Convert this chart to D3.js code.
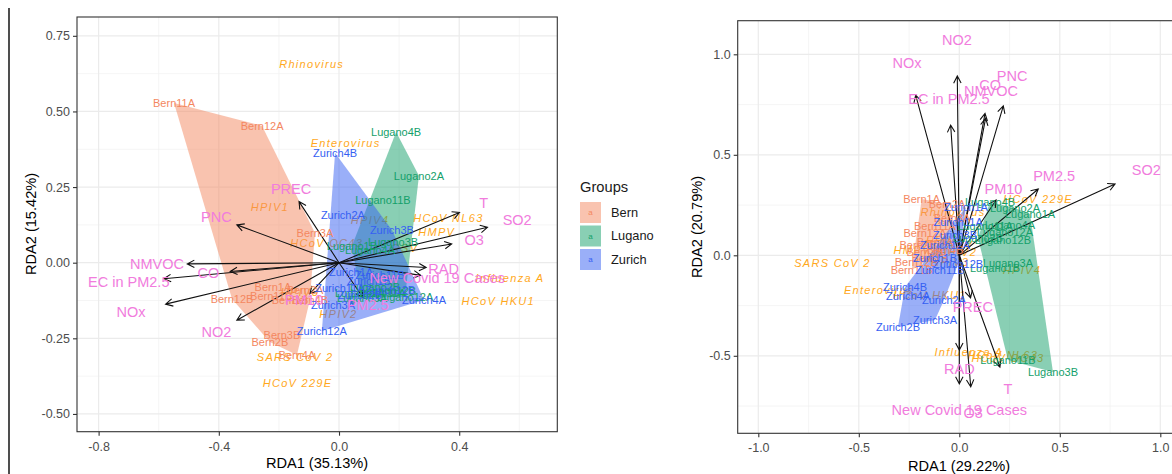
<!DOCTYPE html>
<html>
<head>
<meta charset="utf-8">
<script src="https://cdn.jsdelivr.net/npm/d3@7"></script>
<style>
body { margin: 0; background: #fff; }
text { font-family: "Liberation Sans", Arial, sans-serif; }
</style>
</head>
<body>
<svg id="chart" width="1172" height="474"></svg>
<script>
// ---- data ----
const groups = ["Bern", "Lugano", "Zurich"];
const siteCodes = ["1A", "1B", "2A", "2B", "3A", "3B", "4A", "4B", "11A", "11B", "12A", "12B"];
const siteNames = groups.flatMap(g => siteCodes.map(c => g + c));

// sample scores, same order as siteNames (Bern x12, Lugano x12, Zurich x12)
const leftSiteRDA1 = [
  -0.22, -0.163, -0.113, -0.23, -0.08, -0.19, -0.14, -0.097, -0.549, -0.226, -0.256, -0.356,
  0.07, 0.043, 0.266, 0.12, 0.077, 0.18, 0.103, 0.19, 0.13, 0.146, 0.22, 0.163,
  0.04, 0.1, 0.013, 0.07, -0.02, 0.176, 0.283, -0.013, 0.003, 0.136, -0.057, 0.17
];
const leftSiteRDA2 = [
  -0.08, -0.123, -0.09, -0.262, 0.098, -0.239, -0.305, -0.123, 0.528, -0.11, 0.452, -0.12,
  -0.1, 0.055, 0.287, -0.08, -0.117, 0.068, 0.042, 0.432, -0.1, 0.207, -0.113, -0.093,
  -0.03, -0.06, 0.158, -0.107, -0.14, 0.108, -0.123, 0.363, -0.083, -0.04, -0.226, -0.09
];
const rightSiteRDA1 = [
  -0.187, -0.146, -0.061, -0.206, -0.036, -0.171, -0.121, -0.071, -0.121, -0.237, -0.171, -0.215,
  0.352, 0.178, 0.277, 0.093, 0.242, 0.466, 0.252, 0.153, 0.128, 0.242, 0.227, 0.217,
  0.033, -0.121, -0.076, -0.305, -0.121, -0.021, -0.255, -0.27, -0.006, -0.096, -0.071, -0.006
];
const rightSiteRDA2 = [
  0.28, -0.013, 0.255, 0.051, 0.186, 0.016, 0.066, 0.026, 0.146, -0.073, 0.111, -0.033,
  0.205, -0.063, 0.235, 0.086, -0.038, -0.58, 0.151, 0.265, 0.146, -0.521, 0.116, 0.076,
  0.24, -0.013, -0.222, -0.357, -0.322, 0.1, -0.202, -0.158, 0.166, -0.073, 0.051, -0.043
];

const species = ["Rhinovirus", "Enterovirus", "HPIV1", "HPIV2", "HPIV3", "HPIV4", "HCoV OC43",
  "HCoV NL63", "HCoV 229E", "HCoV HKU1", "HMPV", "RSV", "Influenza A", "SARS CoV 2"];
const leftSpeciesRDA1 = [-0.091, 0.022, -0.23, -0.002, -0.13, 0.103, -0.041, 0.364, -0.138, 0.53, 0.325, 0.22, 0.569, -0.146];
const leftSpeciesRDA2 = [0.656, 0.395, 0.185, -0.171, -0.097, 0.141, 0.064, 0.147, -0.399, -0.127, 0.102, 0.048, -0.052, -0.311];
const rightSpeciesRDA1 = [-0.031, -0.4, -0.071, -0.006, -0.046, 0.312, 0.242, 0.217, 0.392, -0.146, -0.235, 0.003, 0.048, -0.631];
const rightSpeciesRDA2 = [0.215, -0.173, 0.076, 0.016, -0.033, -0.073, -0.511, -0.496, 0.279, -0.197, 0.026, 0.051, -0.481, -0.04];

const envVars = ["PNC", "PREC", "NMVOC", "CO", "EC in PM2.5", "NOx", "NO2", "PM10", "PM2.5",
  "RAD", "New Covid 19 Cases", "O3", "SO2", "T"];
const leftEnvRDA1 = [-0.34, -0.133, -0.505, -0.362, -0.583, -0.577, -0.34, -0.097, 0.08, 0.29, 0.272, 0.375, 0.494, 0.401];
const leftEnvRDA2 = [0.125, 0.202, -0.004, -0.029, -0.053, -0.137, -0.19, -0.102, -0.115, -0.016, -0.042, 0.062, 0.117, 0.166];
const rightEnvRDA1 = [0.219, 0.056, 0.131, 0.128, -0.043, -0.217, -0.01, 0.183, 0.393, 0.0, 0.0, 0.057, 0.775, 0.202];
const rightEnvRDA2 = [0.743, -0.212, 0.682, 0.706, 0.648, 0.797, 0.892, 0.275, 0.33, -0.471, -0.64, -0.654, 0.355, -0.556];

// ---- styles ----
const groupColor = d3.scaleOrdinal().domain(groups).range(["#F4875F", "#14A06A", "#3560F2"]);
const speciesColor = "#FFA81C";
const envColor = "#F17CDD";
const labelScale = 1.2; // env labels sit a bit past the arrow tip

const svg = d3.select("#chart");

// stray frame line on the far left of the screenshot
svg.append("line")
  .attr("x1", 9).attr("x2", 9).attr("y1", 8).attr("y2", 474)
  .attr("stroke", "#222").attr("stroke-width", 1.6);

const hyphen = f => d => f(d).replace("\u2212", "-");

function drawPanel(p) {
  const x = d3.scaleLinear().domain(p.xDomain).range([p.left, p.right]);
  const y = d3.scaleLinear().domain(p.yDomain).range([p.bottom, p.top]);
  const g = svg.append("g");
  const clipId = "clip-" + p.id;
  svg.append("clipPath").attr("id", clipId)
    .append("rect")
    .attr("x", p.left).attr("y", p.top)
    .attr("width", p.right - p.left).attr("height", p.bottom - p.top);

  const inner = g.append("g").attr("clip-path", `url(#${clipId})`);

  // grid
  inner.selectAll(".vminor").data(p.xMinor).enter().append("line")
    .attr("x1", d => x(d)).attr("x2", d => x(d))
    .attr("y1", p.top).attr("y2", p.bottom)
    .attr("stroke", "#F0F0F0").attr("stroke-width", 0.7);
  inner.selectAll(".hminor").data(p.yMinor).enter().append("line")
    .attr("y1", d => y(d)).attr("y2", d => y(d))
    .attr("x1", p.left).attr("x2", p.right)
    .attr("stroke", "#F0F0F0").attr("stroke-width", 0.7);
  inner.selectAll(".vmajor").data(p.xTicks).enter().append("line")
    .attr("x1", d => x(d)).attr("x2", d => x(d))
    .attr("y1", p.top).attr("y2", p.bottom)
    .attr("stroke", "#EBEBEB").attr("stroke-width", 1.2);
  inner.selectAll(".hmajor").data(p.yTicks).enter().append("line")
    .attr("y1", d => y(d)).attr("y2", d => y(d))
    .attr("x1", p.left).attr("x2", p.right)
    .attr("stroke", "#EBEBEB").attr("stroke-width", 1.2);

  // species scores (underneath the hulls)
  const sp = species.map((s, i) => ({ name: s, x: p.spX[i], y: p.spY[i] }));
  inner.selectAll(".sp").data(sp).enter().append("text")
    .attr("x", d => x(d.x)).attr("y", d => y(d.y))
    .attr("dy", "0.35em")
    .attr("text-anchor", "middle")
    .attr("font-size", 11)
    .attr("font-style", "italic")
    .attr("letter-spacing", 1.3)
    .attr("fill", speciesColor)
    .text(d => d.name);

  // group hulls
  const sites = siteNames.map((s, i) => ({
    name: s, group: groups.find(gr => s.startsWith(gr)), x: p.siteX[i], y: p.siteY[i]
  }));
  groups.forEach(gr => {
    const pts = sites.filter(d => d.group === gr).map(d => [x(d.x), y(d.y)]);
    const hull = d3.polygonHull(pts);
    inner.append("path")
      .attr("d", "M" + hull.join("L") + "Z")
      .attr("fill", groupColor(gr))
      .attr("fill-opacity", 0.5);
  });

  // env arrows
  const env = envVars.map((s, i) => ({ name: s, x: p.envX[i], y: p.envY[i] }));
  const x0 = x(0), y0 = y(0);
  inner.selectAll(".arrow").data(env).enter().append("path")
    .attr("d", d => {
      const x1 = x(d.x), y1 = y(d.y);
      const a = Math.atan2(y1 - y0, x1 - x0);
      const L = 8, phi = Math.PI / 6.5;
      const h1 = [x1 - L * Math.cos(a - phi), y1 - L * Math.sin(a - phi)];
      const h2 = [x1 - L * Math.cos(a + phi), y1 - L * Math.sin(a + phi)];
      return `M${x0},${y0}L${x1},${y1}M${h1}L${x1},${y1}L${h2}`;
    })
    .attr("fill", "none")
    .attr("stroke", "#111")
    .attr("stroke-width", 1.1);

  // site labels
  inner.selectAll(".site").data(sites).enter().append("text")
    .attr("x", d => x(d.x)).attr("y", d => y(d.y))
    .attr("dy", "0.35em")
    .attr("text-anchor", "middle")
    .attr("font-size", 11)
    .attr("fill", d => groupColor(d.group))
    .text(d => d.name);

  // env labels
  inner.selectAll(".envlab").data(env).enter().append("text")
    .attr("x", d => x(d.x * labelScale)).attr("y", d => y(d.y * labelScale))
    .attr("dy", "0.35em")
    .attr("text-anchor", "middle")
    .attr("font-size", 14.5)
    .attr("fill", envColor)
    .text(d => d.name);

  // border
  g.append("rect")
    .attr("x", p.left).attr("y", p.top)
    .attr("width", p.right - p.left).attr("height", p.bottom - p.top)
    .attr("fill", "none").attr("stroke", "#333").attr("stroke-width", 1.1);

  // axes
  const xAxis = g.append("g").attr("transform", `translate(0,${p.bottom})`)
    .call(d3.axisBottom(x).tickValues(p.xTicks).tickSize(4).tickPadding(6)
      .tickFormat(hyphen(d3.format(p.xFmt))));
  const yAxis = g.append("g").attr("transform", `translate(${p.left},0)`)
    .call(d3.axisLeft(y).tickValues(p.yTicks).tickSize(4).tickPadding(3)
      .tickFormat(hyphen(d3.format(p.yFmt))));
  [xAxis, yAxis].forEach(a => {
    a.select(".domain").remove();
    a.selectAll(".tick line").attr("stroke", "#333").attr("stroke-width", 1.1);
    a.selectAll(".tick text").attr("fill", "#4D4D4D").attr("font-size", 12.5)
      .attr("font-family", "Liberation Sans, Arial, sans-serif");
  });

  // titles
  g.append("text")
    .attr("x", p.xTitlePos[0]).attr("y", p.xTitlePos[1])
    .attr("text-anchor", "middle").attr("dy", "0.35em")
    .attr("font-size", 14.6).attr("fill", "#000")
    .text(p.xTitle);
  g.append("text")
    .attr("transform", `translate(${p.yTitlePos[0]},${p.yTitlePos[1]}) rotate(-90)`)
    .attr("text-anchor", "middle").attr("dy", "0.35em")
    .attr("font-size", 14.6).attr("fill", "#000")
    .text(p.yTitle);
}

drawPanel({
  id: "left",
  left: 77, right: 557.3, top: 17, bottom: 431.7,
  xDomain: [-0.8719, 0.7264], yDomain: [-0.5587, 0.8122],
  xTicks: [-0.8, -0.4, 0, 0.4], xMinor: [-0.6, -0.2, 0.2, 0.6],
  yTicks: [-0.5, -0.25, 0, 0.25, 0.5, 0.75], yMinor: [-0.375, -0.125, 0.125, 0.375, 0.625],
  xFmt: ".1f", yFmt: ".2f",
  siteX: leftSiteRDA1, siteY: leftSiteRDA2,
  spX: leftSpeciesRDA1, spY: leftSpeciesRDA2,
  envX: leftEnvRDA1, envY: leftEnvRDA2,
  xTitle: "RDA1 (35.13%)", yTitle: "RDA2 (15.42%)",
  xTitlePos: [317, 463], yTitlePos: [31, 224]
});

drawPanel({
  id: "right",
  left: 737.7, right: 1180, top: 20.7, bottom: 433.3,
  xDomain: [-1.1025, 1.098], yDomain: [-0.8856, 1.1672],
  xTicks: [-1, -0.5, 0, 0.5, 1], xMinor: [-0.75, -0.25, 0.25, 0.75],
  yTicks: [-0.5, 0, 0.5, 1], yMinor: [-0.75, -0.25, 0.25, 0.75],
  xFmt: ".1f", yFmt: ".1f",
  siteX: rightSiteRDA1, siteY: rightSiteRDA2,
  spX: rightSpeciesRDA1, spY: rightSpeciesRDA2,
  envX: rightEnvRDA1, envY: rightEnvRDA2,
  xTitle: "RDA1 (29.22%)", yTitle: "RDA2 (20.79%)",
  xTitlePos: [959, 466], yTitlePos: [697, 227]
});

// legend
const legend = svg.append("g");
legend.append("text")
  .attr("x", 580).attr("y", 187).attr("dy", "0.35em")
  .attr("font-size", 14.7).attr("fill", "#1a1a1a")
  .text("Groups");
const keys = legend.selectAll(".key").data(groups).enter().append("g")
  .attr("transform", (d, i) => `translate(580,${202 + i * 23.5})`);
keys.append("rect")
  .attr("width", 21).attr("height", 21)
  .attr("fill", d => groupColor(d)).attr("fill-opacity", 0.5);
keys.append("text")
  .attr("x", 10.5).attr("y", 10.5).attr("dy", "0.35em")
  .attr("text-anchor", "middle").attr("font-size", 8)
  .attr("fill", d => groupColor(d))
  .text("a");
keys.append("text")
  .attr("x", 31).attr("y", 10.5).attr("dy", "0.35em")
  .attr("font-size", 12.8).attr("fill", "#1a1a1a")
  .text(d => d);
</script>
</body>
</html>
